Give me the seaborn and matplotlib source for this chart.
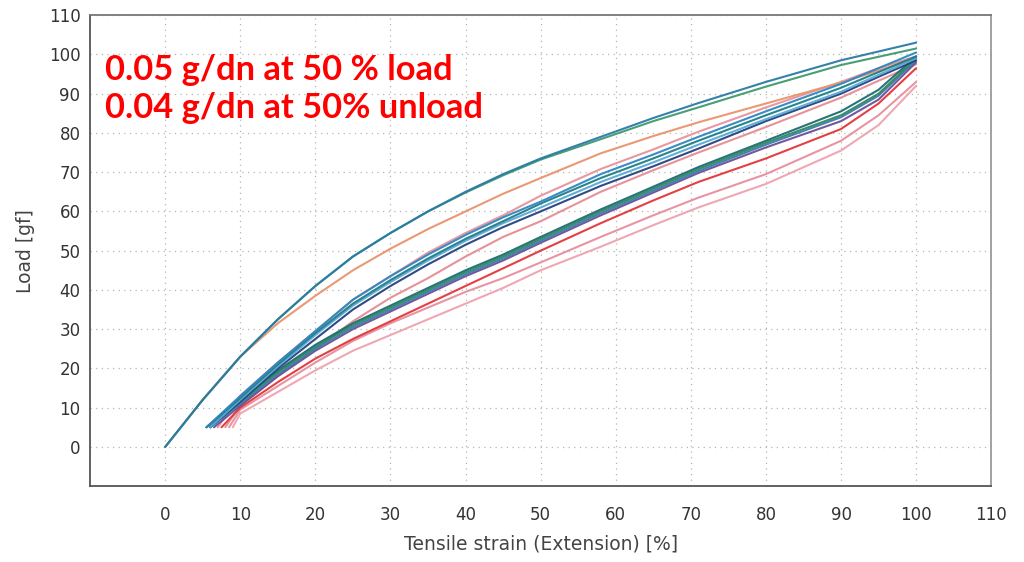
import matplotlib
matplotlib.use("Agg")
import matplotlib.pyplot as plt
import numpy as np
import pandas as pd
import seaborn as sns
from matplotlib.ticker import MultipleLocator

# ---------------- data ----------------
FIRST_STRAIN = [0, 2.5, 5, 7.5, 10, 15, 20, 25, 30, 35, 40, 45, 50, 58, 65, 71, 80, 90, 100]
first_teal = [0, 6, 12, 17.5, 23, 32.5, 41, 48.5, 54.5, 60, 65, 69.5, 73.5, 79, 83.8, 87.6, 93, 98.5, 103]
first_green = [0, 6, 12, 17.5, 23, 32.5, 41, 48.5, 54.5, 60, 64.8, 69.2, 73.2, 78.4, 83, 86.5, 91.8, 97.3, 101.5]
first_orange = [0, 6, 12, 17.5, 23, 31.5, 38.5, 45, 50.5, 55.5, 60, 64.5, 68.5, 74.8, 79.2, 82.7, 87.5, 92.8, 99]

START_LOAD = 5
CYCLE_STRAIN = [10, 15, 20, 25, 30, 35, 40, 45, 50, 58, 65, 71, 80, 90, 95, 100]

# reloading curves (start strain, loads on CYCLE_STRAIN)
load_pink_top_x0 = 7
load_pink_top = [13, 21.5, 29.5, 37.5, 43.5, 49.5, 54.5, 59, 64, 70.8, 75.8, 80.3, 86.5, 93, 96.5, 99.5]
load_blue_x0 = 5.5
load_blue = [13, 21.5, 29.5, 37.5, 43.5, 49, 54, 58.5, 62.5, 69.5, 74.5, 79, 85.5, 92.5, 96.5, 100.5]
load_teal_x0 = 5.5
load_teal = [12.5, 21, 29, 36.5, 42.5, 48, 53, 57.5, 62, 68.5, 73.5, 78, 84.5, 91.5, 95.5, 99.5]
load_lightblue_x0 = 6
load_lightblue = [12, 20.5, 28.5, 36, 42, 47.5, 52.5, 57, 61, 67.5, 72.5, 77, 83.5, 90.5, 94.8, 99]
load_navy_x0 = 6
load_navy = [11.5, 20, 27.5, 35, 41, 46.5, 51.5, 56, 60, 66.5, 71.5, 76, 83, 90, 94.3, 98.5]
load_pink_b_x0 = 8
load_pink_b = [10.5, 18, 25, 32, 38, 43, 48.5, 53.5, 57.5, 65, 70.5, 75, 81.5, 89, 93.3, 97.5]

# unloading curves (end strain, loads on CYCLE_STRAIN)
unload_teal_x0 = 5.5
unload_teal = [12, 19.5, 26, 31.5, 36, 40.5, 45, 49, 53.5, 60.5, 66.3, 71.3, 78, 85.5, 91, 99.5]
unload_green_x0 = 6
unload_green = [11.5, 19, 25.5, 31, 35.5, 40, 44.5, 48.5, 53, 60, 65.8, 70.8, 77.5, 84.5, 90, 99]
unload_blue_x0 = 6
unload_blue = [11, 18.5, 25, 30.5, 35, 39.5, 44, 48, 52.5, 59.5, 65.3, 70.3, 77, 84, 89.5, 98.5]
unload_purple_x0 = 6.5
unload_purple = [10.5, 18, 24.5, 30, 34.5, 39, 43.5, 47.5, 52, 59, 64.8, 69.8, 76.3, 83, 88.5, 98]
unload_red_x0 = 7.5
unload_red = [10, 16.5, 22.5, 27.5, 32, 36.5, 41, 45.5, 50, 57, 62.8, 67.5, 73.5, 81, 87.5, 96.5]
unload_pink1_x0 = 8.5
unload_pink1 = [9.5, 15.5, 21.5, 27, 31.5, 35.5, 39.5, 43, 47, 53.5, 59, 63.5, 69.5, 78, 84.5, 93]
unload_pink2_x0 = 9
unload_pink2 = [8.5, 14, 19.5, 24.5, 28.5, 32.5, 36.5, 40.5, 45, 51, 56.5, 61, 67, 75.5, 82, 92]

X_TICKS = [0, 10, 20, 30, 40, 50, 60, 70, 80, 90, 100, 110]
Y_TICKS = [0, 10, 20, 30, 40, 50, 60, 70, 80, 90, 100, 110]
NOTE_1 = "0.05 g/dn at 50 % load"
NOTE_2 = "0.04 g/dn at 50% unload"

# ---------------- build long table ----------------
curves = [
    ("unload_pink2", [unload_pink2_x0] + CYCLE_STRAIN, [START_LOAD] + unload_pink2, "#eea3b0"),
    ("unload_pink1", [unload_pink1_x0] + CYCLE_STRAIN, [START_LOAD] + unload_pink1, "#e68f9e"),
    ("load_pink_b", [load_pink_b_x0] + CYCLE_STRAIN, [START_LOAD] + load_pink_b, "#e58c96"),
    ("load_pink_top", [load_pink_top_x0] + CYCLE_STRAIN, [START_LOAD] + load_pink_top, "#e7939b"),
    ("first_orange", FIRST_STRAIN, first_orange, "#e8946c"),
    ("unload_red", [unload_red_x0] + CYCLE_STRAIN, [START_LOAD] + unload_red, "#e2363a"),
    ("unload_purple", [unload_purple_x0] + CYCLE_STRAIN, [START_LOAD] + unload_purple, "#6c4f94"),
    ("unload_blue", [unload_blue_x0] + CYCLE_STRAIN, [START_LOAD] + unload_blue, "#3a7ab6"),
    ("unload_green", [unload_green_x0] + CYCLE_STRAIN, [START_LOAD] + unload_green, "#2f8a5c"),
    ("unload_teal", [unload_teal_x0] + CYCLE_STRAIN, [START_LOAD] + unload_teal, "#1c6c72"),
    ("load_navy", [load_navy_x0] + CYCLE_STRAIN, [START_LOAD] + load_navy, "#26427e"),
    ("load_lightblue", [load_lightblue_x0] + CYCLE_STRAIN, [START_LOAD] + load_lightblue, "#58aad6"),
    ("load_teal", [load_teal_x0] + CYCLE_STRAIN, [START_LOAD] + load_teal, "#1e7d86"),
    ("load_blue", [load_blue_x0] + CYCLE_STRAIN, [START_LOAD] + load_blue, "#2e86c1"),
    ("first_green", FIRST_STRAIN, first_green, "#3f9a6e"),
    ("first_teal", FIRST_STRAIN, first_teal, "#2a7aa8"),
]

rows = []
for name, xs, ys, _ in curves:
    for k, (x, y) in enumerate(zip(xs, ys)):
        rows.append({"curve": name, "step": k, "strain": x, "load": y})
df = pd.DataFrame(rows)
palette = {name: c for name, _, _, c in curves}
order = [name for name, _, _, _ in curves]

# ---------------- plot ----------------
sns.set_theme(style="white")
plt.rcParams["font.family"] = ["DejaVu Sans"]

fig = plt.figure(figsize=(10.24, 5.62), dpi=100)
ax = fig.add_axes([0.088, 0.135, 0.880, 0.838])

sns.lineplot(data=df, x="strain", y="load", hue="curve", hue_order=order,
             palette=palette, sort=False, estimator=None, legend=False,
             linewidth=1.5, alpha=0.95, ax=ax)

ax.set_xlim(-10, 110)
ax.set_ylim(-10, 110)
ax.set_xticks(X_TICKS)
ax.set_yticks(Y_TICKS)
ax.xaxis.set_minor_locator(MultipleLocator(5))
ax.yaxis.set_minor_locator(MultipleLocator(5))
ax.tick_params(which="major", direction="inout", length=8, width=1.1, color="#555555",
               labelsize=12, labelcolor="#333333")
ax.tick_params(which="minor", direction="inout", length=6, width=1.0, color="#555555")
ax.tick_params(axis="x", which="major", pad=10)
ax.tick_params(axis="y", which="major", pad=3)
ax.grid(True, which="major", linestyle=(0, (1, 3.5)), color="#b5b5b5", linewidth=0.9)

for side in ["left", "bottom"]:
    ax.spines[side].set_color("#555555")
    ax.spines[side].set_linewidth(1.3)
ax.spines["top"].set_color("#777777")
ax.spines["top"].set_linewidth(1.3)
ax.spines["right"].set_color("#9a9a9a")
ax.spines["right"].set_linewidth(1.3)

ax.set_xlabel("Tensile strain (Extension) [%]", fontsize=13.5, color="#444444", labelpad=8)
ax.set_ylabel("Load [gf]", fontsize=13.5, color="#444444", labelpad=10)

ax.text(-8, 96, NOTE_1, color="#ff0000", fontsize=24.8, fontweight="bold",
        family=["Lato", "DejaVu Sans"], va="center", ha="left")
ax.text(-8, 86.3, NOTE_2, color="#ff0000", fontsize=24.8, fontweight="bold",
        family=["Lato", "DejaVu Sans"], va="center", ha="left")

fig.savefig("out.png", dpi=100)
